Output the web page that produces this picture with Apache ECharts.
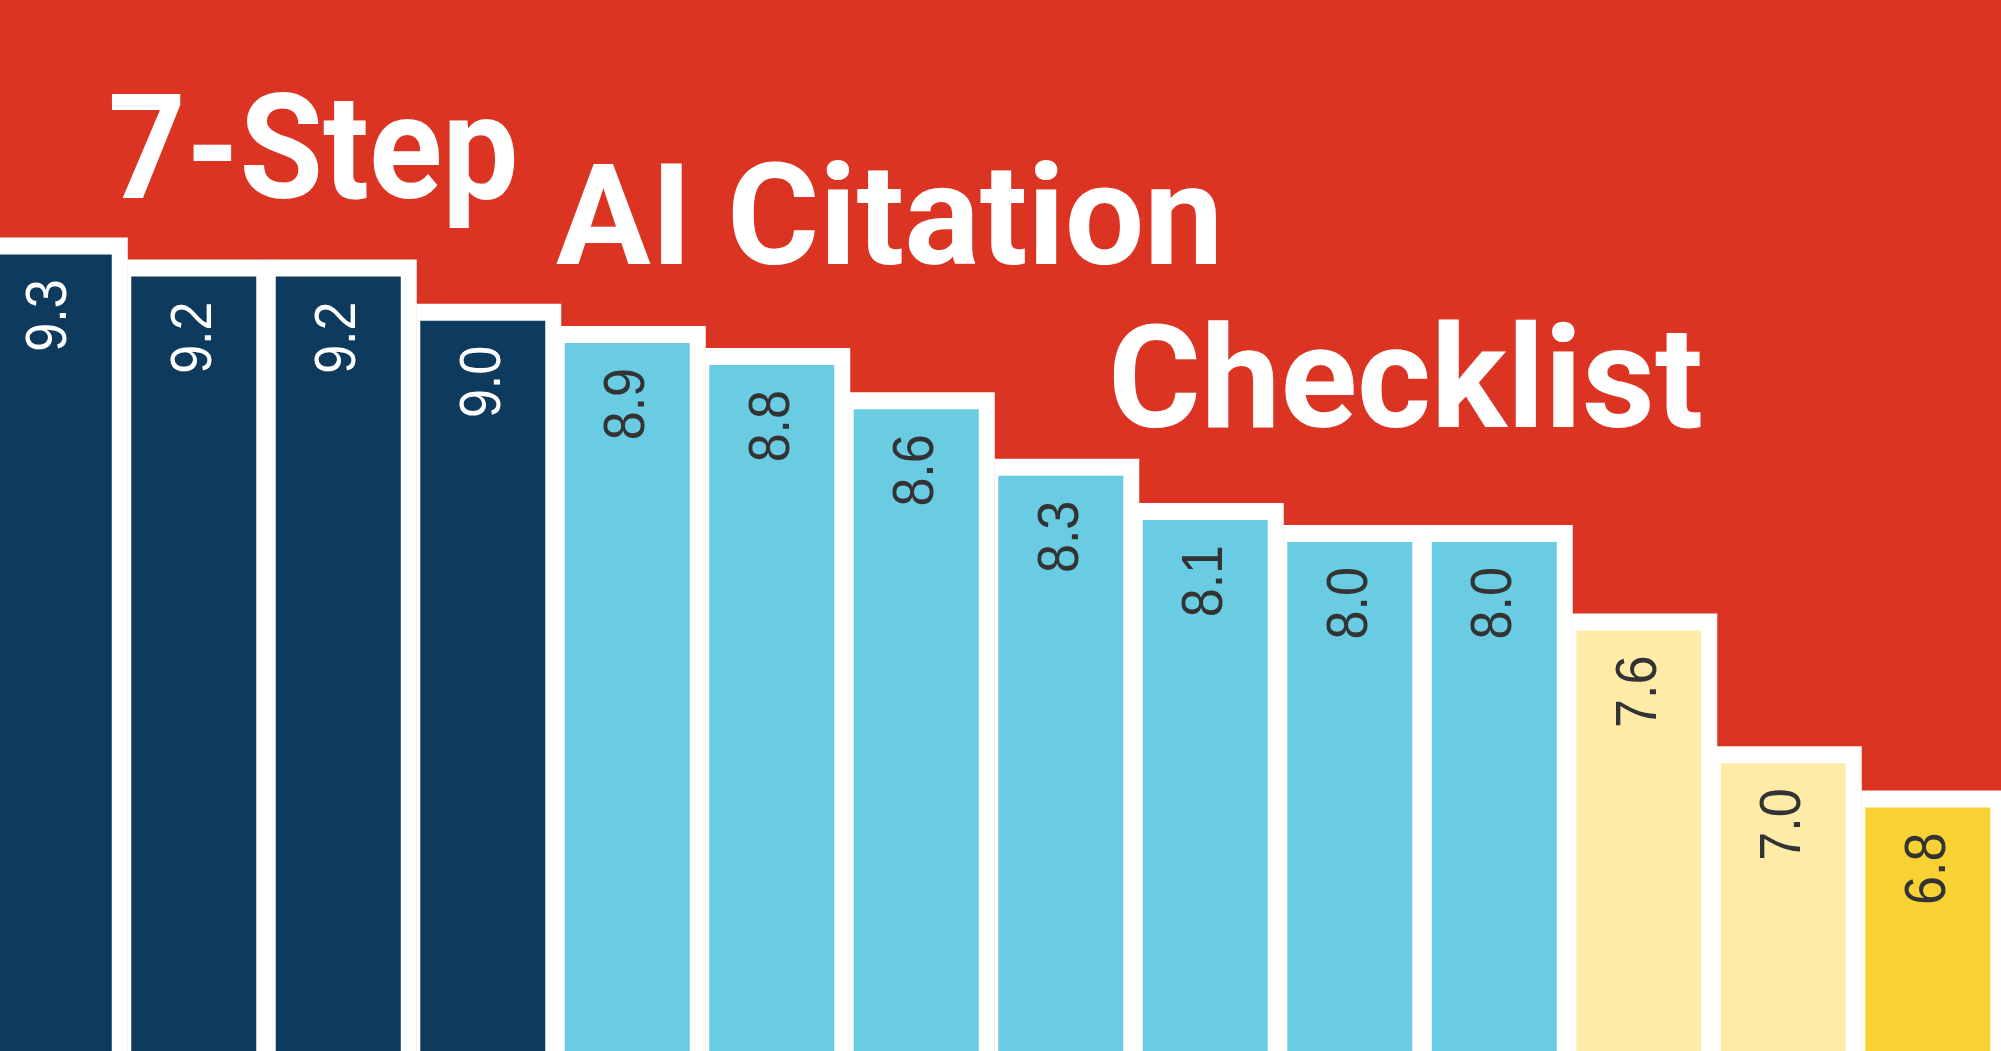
<!DOCTYPE html>
<html>
<head>
<meta charset="utf-8">
<script src="https://cdn.jsdelivr.net/npm/echarts@6/dist/echarts.min.js"></script>
<style>
html, body { margin: 0; padding: 0; background: #DC3423; }
#c { width: 2001px; height: 1051px; }
</style>
</head>
<body>
<div id="c"></div>
<script>
// ---- data ----
const categories = ['Step A', 'Step B', 'Step C', 'Step D', 'Step E', 'Step F', 'Step G',
                    'Step H', 'Step I', 'Step J', 'Step K', 'Step L', 'Step M', 'Step N'];
const scores = [9.3, 9.2, 9.2, 9.0, 8.9, 8.8, 8.6, 8.3, 8.1, 8.0, 8.0, 7.6, 7.0, 6.8];
const tiers = [0, 0, 0, 0, 1, 1, 1, 1, 1, 1, 1, 2, 2, 3];
const titleLines = ['7-Step', 'AI Citation', 'Checklist'];

// ---- styles ----
const tierColors = ['#0E3A5D', '#69CCE2', '#FDEBA7', '#F8D232'];
const labelColors = ['#FFFFFF', '#333333', '#333333', '#333333'];
const RED = '#DC3423';

const chart = echarts.init(document.getElementById('c'), null, { renderer: 'canvas' });

function titleStyle(text, size) {
  return {
    text: text,
    fill: '#FFFFFF',
    fontFamily: 'Roboto',
    fontWeight: 'bold',
    fontSize: size,
    align: 'left',
    verticalAlign: 'middle'
  };
}

const option = {
  backgroundColor: RED,
  animation: false,
  grid: { left: -23, right: 1, top: 0, bottom: 0, containLabel: false, outerBoundsMode: 'none' },
  xAxis: { type: 'category', data: categories, show: false },
  yAxis: { type: 'value', min: 5.7, max: 10.45, show: false },
  graphic: [
    { type: 'text', z: 100, x: 108, y: 161, scaleX: 0.93, style: titleStyle(titleLines[0], 146) },
    { type: 'text', z: 100, x: 556, y: 229, style: titleStyle(titleLines[1], 141) },
    { type: 'text', z: 100, x: 1108, y: 391, style: titleStyle(titleLines[2], 142) }
  ],
  series: [{
    type: 'custom',
    data: scores.map((v, i) => [i, v, tiers[i]]),
    encode: { x: 0, y: 1 },
    renderItem: function (params, api) {
      const i = api.value(0);
      const v = api.value(1);
      const t = api.value(2);
      const pt = api.coord([i, v]);
      const pitch = api.size([1, 0])[0];
      const cs = params.coordSys;
      const bottom = cs.y + cs.height;
      const barW = pitch - 19.5;
      const cx = pt[0];
      const top = pt[1];
      return {
        type: 'group',
        children: [
          {
            type: 'rect',
            shape: { x: cx - barW / 2 - 4, y: top - 17, width: pitch + 0.5, height: bottom - top + 17 },
            style: { fill: '#FFFFFF' }
          },
          {
            type: 'rect',
            shape: { x: cx - barW / 2, y: top, width: barW, height: bottom - top },
            style: { fill: tierColors[t] }
          },
          {
            type: 'text',
            x: cx + 1,
            y: top + 25,
            rotation: Math.PI / 2,
            scaleY: 1.1,
            style: {
              text: v.toFixed(1),
              fill: labelColors[t],
              fontFamily: '"Liberation Sans", Arial, sans-serif',
              fontSize: 52,
              align: 'right',
              verticalAlign: 'middle'
            }
          }
        ]
      };
    }
  }]
};

chart.setOption(option);
</script>
</body>
</html>
